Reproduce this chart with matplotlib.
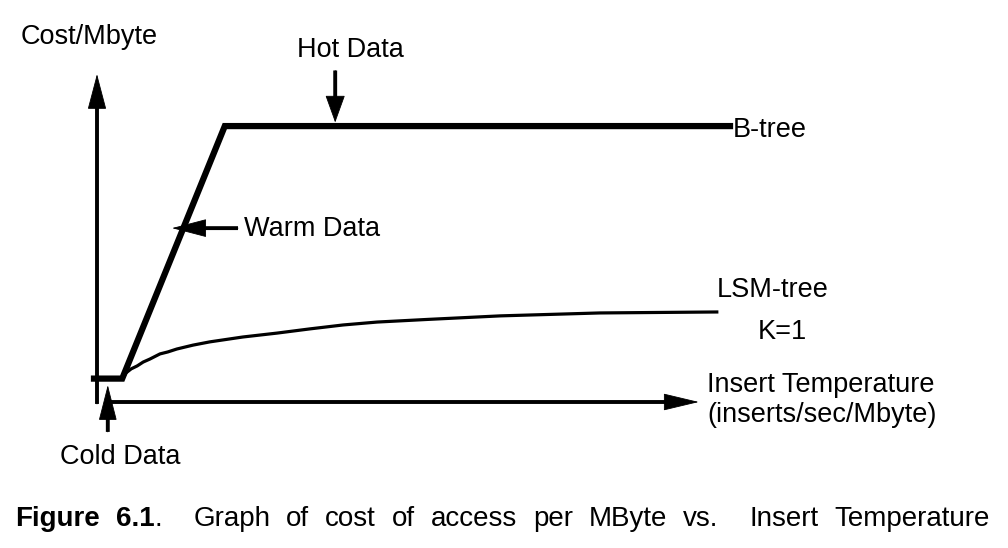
import matplotlib.pyplot as plt
import numpy as np

plt.rcParams['font.family'] = ['Liberation Sans', 'DejaVu Sans']

# schematic curves (x = insert temperature, y = cost/Mbyte, arbitrary units)
btree_x = [-0.05, 0.42, 2.13, 10.55]
btree_y = [0.72, 0.72, 8.49, 8.49]

lsm_x = [0.42, 0.48, 0.57, 0.67, 0.77, 0.88, 1.05, 1.18, 1.33, 1.60,
         1.88, 2.43, 3.00, 3.55, 4.10, 4.67, 5.50, 6.72, 8.38, 10.33]
lsm_y = [0.71, 0.89, 1.02, 1.11, 1.23, 1.32, 1.48, 1.54, 1.63, 1.75,
         1.85, 2.00, 2.12, 2.25, 2.37, 2.46, 2.54, 2.65, 2.74, 2.77]

# caption words, bold flag, and relative gap after each word (justified line)
caption_words = ["Figure", "6.1", ".", "Graph", "of", "cost", "of", "access",
                 "per", "MByte", "vs.", "Insert", "Temperature"]
caption_bold = [True, True, False, False, False, False, False, False,
                False, False, False, False, False]
caption_gap = [1, 0, 2, 1, 1, 1, 1, 1, 1, 1, 2, 1, 0]

fig = plt.figure(figsize=(10.08, 5.48), dpi=100)
ax = fig.add_axes([97/1008, 146/548, 600/1008, 325/548])
ax.set_xlim(0, 10)
ax.set_ylim(0, 10)
ax.axis('off')

def arrow(tail, tip, hl=23, hw=6.0, lw=2.8):
    # shaft stops at the head base, head drawn filled with a thin edge
    ax.annotate('', xy=tip, xytext=tail, annotation_clip=False,
                arrowprops=dict(arrowstyle='-', lw=lw, color='black',
                                shrinkA=0, shrinkB=hl*0.7, capstyle='butt'))
    ax.annotate('', xy=tip, xytext=tail, annotation_clip=False,
                arrowprops=dict(arrowstyle='-|>,head_length=%s,head_width=%s' % (hl, hw),
                                mutation_scale=1, lw=0.6, color='black',
                                shrinkA=0, shrinkB=0, joinstyle='miter'))

# axes
arrow((0, -0.06), (0, 10.09), hl=23.5, hw=6.2)
arrow((0.22, 0), (10.03, 0), hl=23.5, hw=5.6)

# curves
ax.plot(btree_x, btree_y, color='black', lw=4.5, solid_joinstyle='miter', clip_on=False)
ax.plot(lsm_x, lsm_y, color='black', lw=2.3, clip_on=False)

# pointers
arrow((0.18, -0.92), (0.18, 0.52), hl=23.5, hw=6.0)
arrow((2.35, 5.35), (1.25, 5.35), hl=23, hw=6.0)
arrow((3.97, 10.2), (3.97, 8.6), hl=18, hw=6.5)

fs = 19.5
txt = dict(fontsize=fs, va='baseline', clip_on=False)
ax.text(-1.28, 11.02, 'Cost/Mbyte', ha='left', **txt)
ax.text(4.22, 10.62, 'Hot Data', ha='center', **txt)
ax.text(2.45, 5.11, 'Warm Data', ha='left', **txt)
ax.text(10.6, 8.15, 'B-tree', ha='left', **txt)
ax.text(10.33, 3.23, 'LSM-tree', ha='left', **txt)
ax.text(11.42, 1.94, 'K=1', ha='center', **txt)
ax.text(10.17, 0.31, 'Insert Temperature', ha='left', **txt)
ax.text(10.17, -0.62, '(inserts/sec/Mbyte)', ha='left', **txt)
ax.text(0.38, -1.91, 'Cold Data', ha='center', **txt)

# justified caption between x=15 and x=990 px
renderer = fig.canvas.get_renderer()
texts = []
for word, bold in zip(caption_words, caption_bold):
    t = fig.text(0, 22/548, word, fontsize=20, va='baseline',
                 fontweight='bold' if bold else 'normal')
    texts.append(t)
widths = [t.get_window_extent(renderer).width for t in texts]
unit = (975 - sum(widths)) / sum(caption_gap)
x = 15
for t, w, g in zip(texts, widths, caption_gap):
    t.set_x(x / 1008)
    x += w + g * unit

fig.savefig('out.png', dpi=100)
